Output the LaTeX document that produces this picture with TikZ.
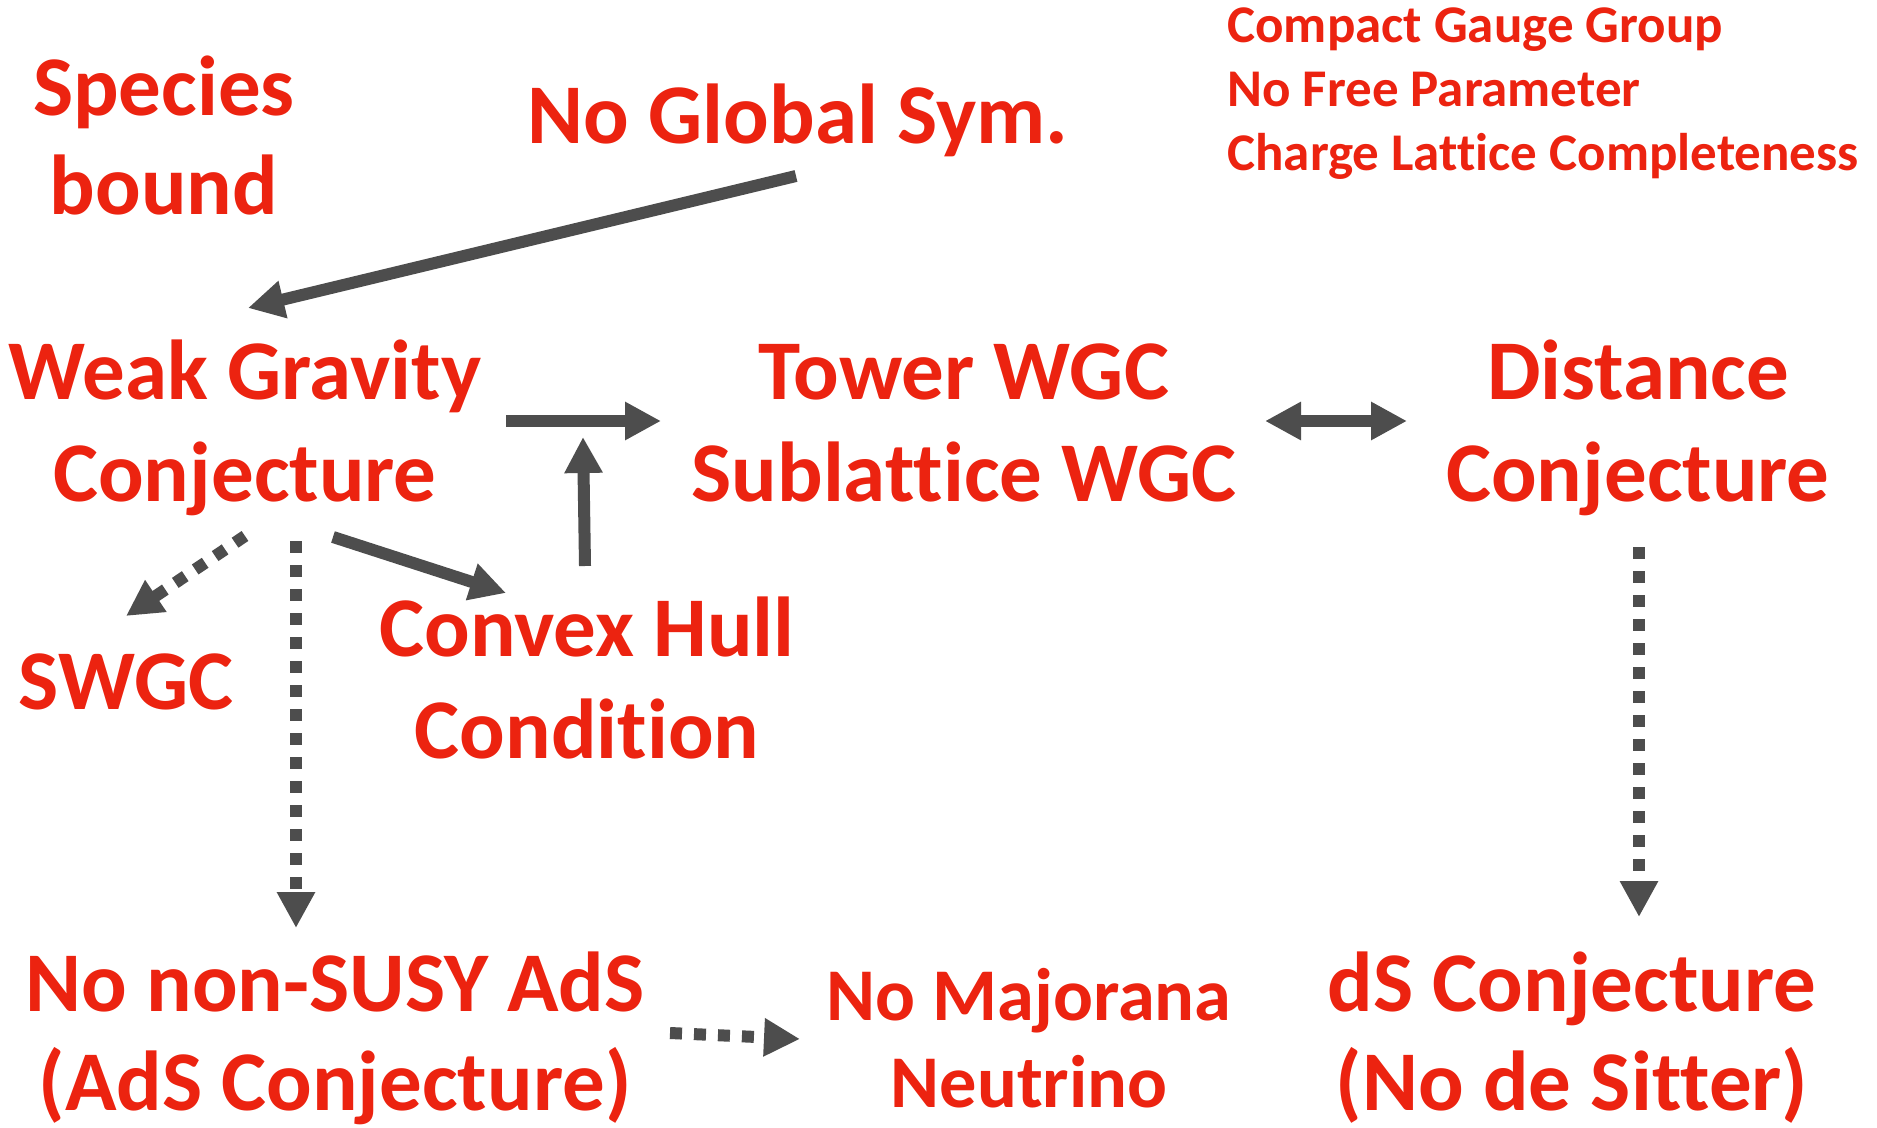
\documentclass[tikz,border=0pt]{standalone}
\usepackage{fontspec}
\setmainfont[Ligatures=NoCommon]{Carlito}
\usetikzlibrary{arrows.meta}
\definecolor{txtred}{HTML}{EC2310}
\definecolor{arrgray}{HTML}{4D4D4D}
\begin{document}
\begin{tikzpicture}[x=0.5pt,y=-0.5pt,
  big/.style={font=\bfseries\fontsize{42.5}{50}\selectfont, text=txtred, inner sep=0pt, anchor=base},
  mid/.style={big, font=\bfseries\fontsize{37.2}{44}\selectfont},
  small/.style={font=\bfseries\fontsize{26.5}{31}\selectfont, text=txtred, inner sep=0pt, anchor=base west},
  link/.style={draw=arrgray, line width=6pt, -{Triangle[length=18pt,width=18pt]}},
  dotlink/.style={link, dash pattern=on 6pt off 6pt},
  bothlink/.style={draw=arrgray, line width=6pt, {Triangle[length=18pt,width=18pt]}-{Triangle[length=18pt,width=18pt]}}]
\fill[white] (0,0) rectangle (1877,1128);
\path[use as bounding box] (0,0) rectangle (1877,1128);

% statements
\node[big] (spA) at (164,116) {Species};
\node[big] (spB) at (164,215) {bound};
\node[big] (ngs) at (798,144) {No Global Sym.};
\node[small] (cgg) at (1227,43) {Compact Gauge Group};
\node[small] (nfp) at (1227,107) {No Free Parameter};
\node[small] (clc) at (1227,171) {Charge Lattice Completeness};
\node[big] (wgcA) at (245,399) {Weak Gravity};
\node[big] (wgcB) at (245,501) {Conjecture};
\node[big] (twA) at (964,399) {Tower WGC};
\node[big] (twB) at (964,501) {Sublattice WGC};
\node[big] (dcA) at (1638,399) {Distance};
\node[big] (dcB) at (1638,501) {Conjecture};
\node[big] (swgc) at (126,709) {SWGC};
\node[big] (chA) at (587,656) {Convex Hull};
\node[big] (chB) at (587,758) {Condition};
\node[big] (adsA) at (335,1011) {No non-SUSY AdS};
\node[big] (adsB) at (335,1110) {(AdS Conjecture)};
\node[mid] (mnA) at (1029,1020) {No Majorana};
\node[mid] (mnB) at (1029,1107) {Neutrino};
\node[big] (dsA) at (1572,1011) {dS Conjecture};
\node[big] (dsB) at (1572,1110) {(No de Sitter)};

% connector ends
\coordinate (ngs-out) at (796,176);
\coordinate (wgc-in) at (248,308);
\coordinate (wgc-r) at (506,421);
\coordinate (tw-l) at (661,421);
\coordinate (ch-top) at (585,566);
\coordinate (ch-up) at (583,437);
\coordinate (tw-r) at (1265,421);
\coordinate (dc-l) at (1407,421);
\coordinate (wgc-br) at (333,537);
\coordinate (ch-in) at (506,593);
\coordinate (wgc-bl) at (245,536);
\coordinate (swgc-in) at (126,616);
\coordinate (wgc-b) at (296,541);
\coordinate (ads-in) at (296,928);
\coordinate (dc-b) at (1639,547);
\coordinate (ds-in) at (1639,917);
\coordinate (ads-r) at (670,1033);
\coordinate (mn-in) at (800,1039);

% connectors
\draw[link] (ngs-out) -- (wgc-in);
\draw[link] (wgc-r) -- (tw-l);
\draw[link] (ch-top) -- (ch-up);
\draw[bothlink] (tw-r) -- (dc-l);
\draw[link] (wgc-br) -- (ch-in);
\draw[dotlink] (wgc-bl) -- (swgc-in);
\draw[dotlink] (wgc-b) -- (ads-in);
\draw[dotlink] (dc-b) -- (ds-in);
\draw[dotlink] (ads-r) -- (mn-in);
\end{tikzpicture}
\end{document}
